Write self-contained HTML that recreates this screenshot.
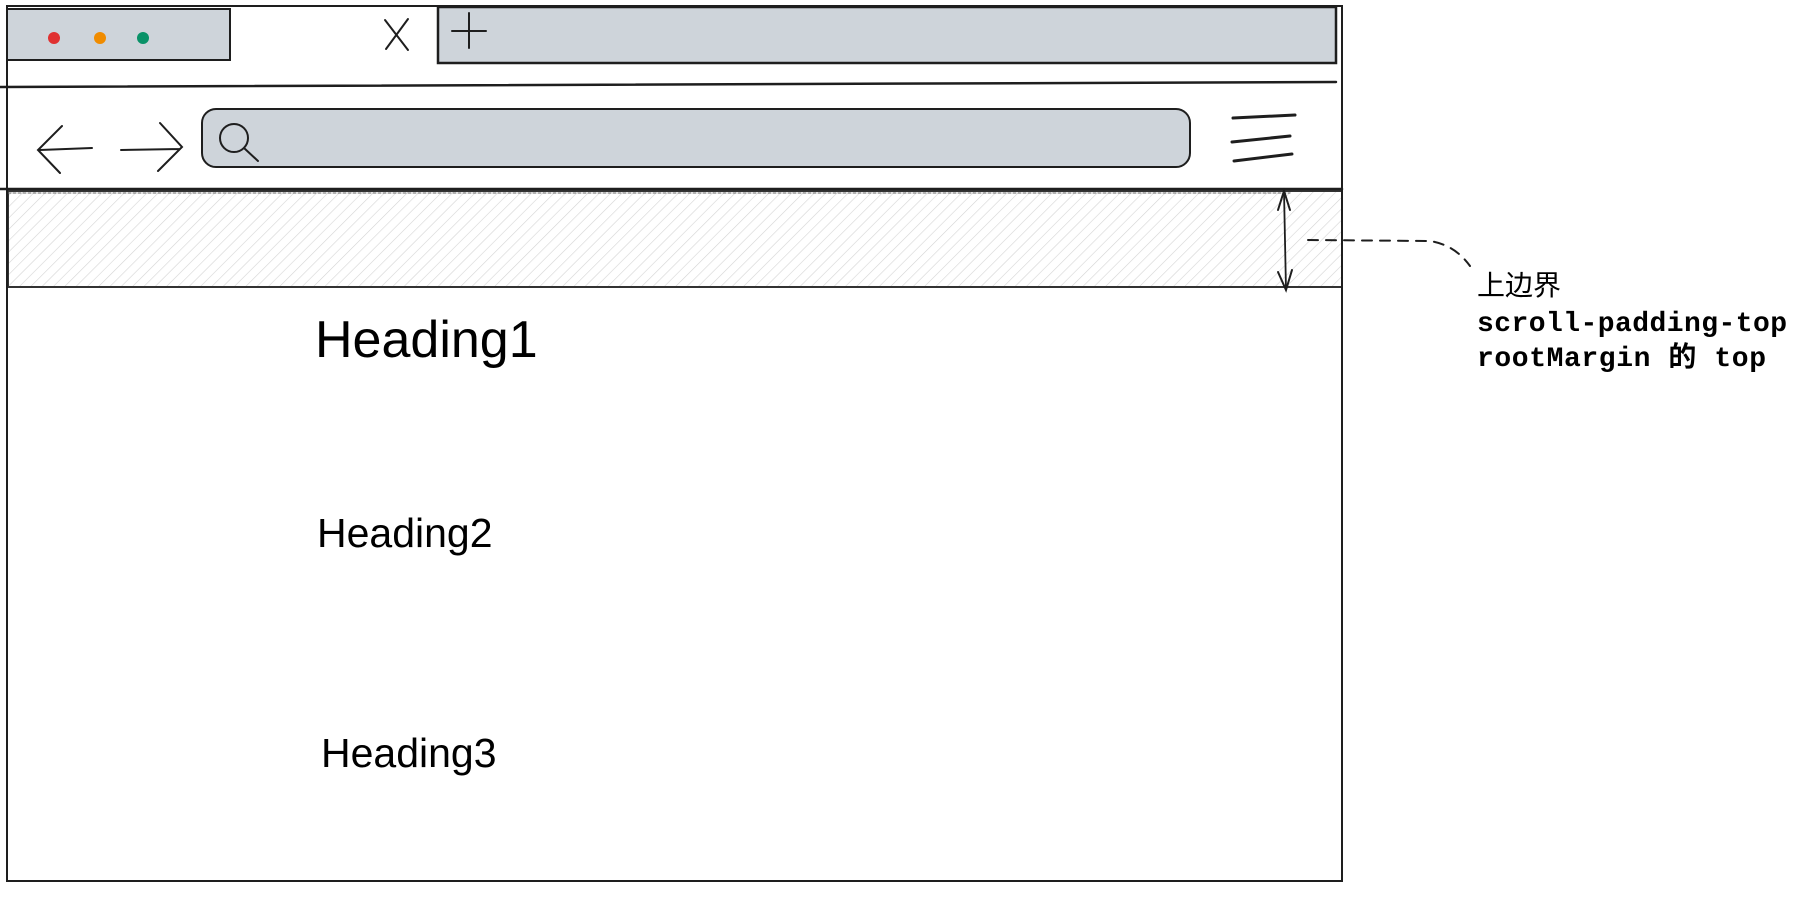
<!DOCTYPE html>
<html><head><meta charset="utf-8"><style>
html,body{margin:0;padding:0;background:#fff;}
svg{display:block;}
</style></head><body>
<svg width="1806" height="898" viewBox="0 0 1806 898" xmlns="http://www.w3.org/2000/svg">
<defs>
<pattern id="h" width="8" height="8" patternUnits="userSpaceOnUse" patternTransform="rotate(45)">
<line x1="0" y1="0" x2="0" y2="8" stroke="#d4d4d4" stroke-width="1.2"/>
</pattern>
</defs>
<g fill="none" stroke="#1e1e1e" stroke-width="2" stroke-linecap="round">
<rect x="8" y="191" width="1334" height="96" fill="url(#h)" stroke="#333"/>
<line x1="8" y1="193" x2="1290" y2="193" stroke="#666" stroke-dasharray="3 2" stroke-width="1"/>
<rect x="7" y="6" width="1335" height="875"/>
<rect x="7" y="9" width="223" height="51" fill="#ced4da"/>
<rect x="438" y="7" width="898" height="56" fill="#ced4da" stroke-width="2.5"/>
<line x1="0" y1="87" x2="1336" y2="82" stroke-width="2.5"/>
<line x1="0" y1="189" x2="1342" y2="189" stroke-width="2.5"/>
<line x1="385" y1="20" x2="408" y2="50"/><line x1="408" y1="19" x2="386" y2="49"/>
<line x1="469" y1="13" x2="469" y2="48"/><line x1="452" y1="31" x2="486" y2="31"/>
<path d="M62 126 L38 150 L60 173 M40 150 L92 148"/>
<path d="M121 150 L180 149 M160 123 L182 147 L158 171"/>
<rect x="202" y="109" width="988" height="58" rx="14" fill="#ced4da"/>
<circle cx="234" cy="138" r="14" fill="#ced4da"/>
<line x1="244" y1="148" x2="258" y2="161"/>
<line x1="1233" y1="118" x2="1295" y2="115" stroke-width="3"/>
<line x1="1232" y1="142" x2="1290" y2="136" stroke-width="3"/>
<line x1="1234" y1="161" x2="1292" y2="154" stroke-width="3"/>
<path d="M1284 191 L1286 290" stroke-width="1.8"/>
<path d="M1278 210 L1284 191 L1290 210"/>
<path d="M1278 272 L1286 290 L1292 270"/>
<path d="M1308 240 L1430 241 Q1455 245 1470 266" stroke-dasharray="10 8"/>
</g>
<circle cx="54" cy="38" r="6" fill="#e03131"/>
<circle cx="100" cy="38" r="6" fill="#f08c00"/>
<circle cx="143" cy="38" r="6" fill="#099268"/>
<g font-family="'Liberation Sans', sans-serif" fill="#000">
<text x="315" y="357" font-size="52">Heading1</text>
<text x="317" y="547" font-size="41">Heading2</text>
<text x="321" y="767" font-size="41">Heading3</text>
</g>
<g font-family="'Liberation Mono','Noto Sans CJK SC',monospace" font-weight="bold" font-size="28" fill="#000">
<text x="1477" y="295" font-weight="normal">上边界</text>
<text x="1477" y="331" textLength="310">scroll-padding-top</text>
<text x="1477" y="366" textLength="289">rootMargin 的 top</text>
</g>
</svg>
</body></html>
